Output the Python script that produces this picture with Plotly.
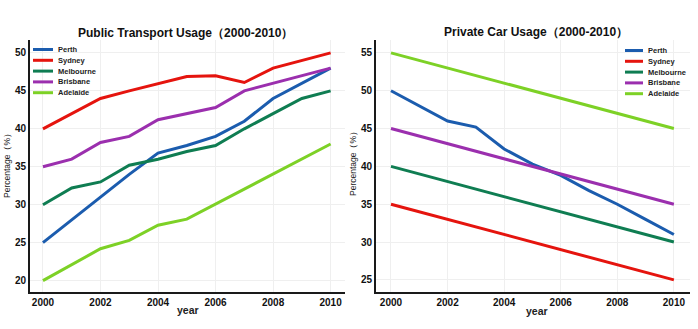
import plotly.graph_objects as go

years = list(range(2000, 2011))
cities = ["Perth", "Sydney", "Melbourne", "Brisbane", "Adelaide"]
colors = ["#1b5cae", "#e5140e", "#0f7d52", "#9b2fae", "#7dd126"]

pt_perth = [25, 28, 31, 34, 36.8, 37.8, 39, 41, 44, 46, 48]
pt_sydney = [40, 42, 44, 45, 46, 46.9, 47, 46.1, 48, 49, 50]
pt_melbourne = [30, 32.2, 33, 35.2, 36, 37, 37.8, 40, 42, 44, 45]
pt_brisbane = [35, 36, 38.2, 39, 41.2, 42, 42.8, 45, 46, 47, 48]
pt_adelaide = [20, 22.1, 24.2, 25.3, 27.3, 28.1, 30.1, 32, 34, 36, 38]

car_perth = [50, 48, 46, 45.2, 42.3, 40.3, 38.8, 36.8, 35, 33, 31]
car_sydney = [35, 34, 33, 32, 31, 30, 29, 28, 27, 26, 25]
car_melbourne = [40, 39, 38, 37, 36, 35, 34, 33, 32, 31, 30]
car_brisbane = [45, 44, 43, 42, 41, 40, 39, 38, 37, 36, 35]
car_adelaide = [55, 54, 53, 52, 51, 50, 49, 48, 47, 46, 45]

public = [pt_perth, pt_sydney, pt_melbourne, pt_brisbane, pt_adelaide]
private = [car_perth, car_sydney, car_melbourne, car_brisbane, car_adelaide]

W, H = 698, 329
fig = go.Figure()
for name, col, vals in zip(cities, colors, public):
    fig.add_trace(go.Scatter(x=years, y=vals, mode="lines", name=name,
                             line=dict(color=col, width=3), xaxis="x", yaxis="y"))
for name, col, vals in zip(cities, colors, private):
    fig.add_trace(go.Scatter(x=years, y=vals, mode="lines", name=name,
                             line=dict(color=col, width=3), xaxis="x2", yaxis="y2"))

font_family = "Liberation Sans, Arial, sans-serif"
tickfont = dict(family=font_family, size=10, color="#111")
axis_common = dict(showline=True, linecolor="#1a1a1a", linewidth=2, showgrid=True,
                   gridcolor="#efefef", gridwidth=1, zeroline=False, ticks="",
                   tickfont=tickfont, automargin=False,
                   tickprefix="<b>", ticksuffix="</b>")

y0, y1 = (H - 292) / H, (H - 40) / H
fig.update_layout(
    width=W, height=H, margin=dict(l=0, r=0, t=0, b=0),
    paper_bgcolor="white", plot_bgcolor="white",
    font=dict(family=font_family),
    showlegend=False,
    xaxis=dict(domain=[30 / W, 345 / W], range=[1999.55, 2010.5], dtick=2, anchor="y", **axis_common),
    yaxis=dict(domain=[y0, y1], range=[18.5, 51.7], dtick=5, anchor="x", **axis_common),
    xaxis2=dict(domain=[376 / W, 690 / W], range=[1999.47, 2010.57], dtick=2, anchor="y2", **axis_common),
    yaxis2=dict(domain=[y0, y1], range=[23.4, 56.7], dtick=5, anchor="x2", **axis_common),
)

anns = [
    dict(text="<b>Public Transport Usage（2000-2010）</b>", x=185 / W, y=1 - 33 / H, font=dict(size=12, color="#111")),
    dict(text="<b>Private Car Usage（2000-2010）</b>", x=536 / W, y=1 - 32 / H, font=dict(size=12, color="#111")),
    dict(text="<b>year</b>", x=188 / W, y=1 - 310 / H, font=dict(size=10.5, color="#222")),
    dict(text="<b>year</b>", x=537 / W, y=1 - 311 / H, font=dict(size=10.5, color="#222")),
    dict(text="Percentage（%）", x=7 / W, y=1 - 164 / H, textangle=-90, font=dict(size=8.5, color="#222")),
    dict(text="Percentage（%）", x=353 / W, y=1 - 162 / H, textangle=-90, font=dict(size=8.5, color="#222")),
]
shapes = []
# custom compact legends
legend_specs = [(33, 53, 56, 49.5), (625, 643, 646, 50.5)]
for lx0, lx1, tx, ytop in legend_specs:
    for i, (name, col) in enumerate(zip(cities, colors)):
        yy = 1 - (ytop + i * 10.8) / H
        shapes.append(dict(type="line", xref="paper", yref="paper", x0=lx0 / W, x1=lx1 / W,
                           y0=yy, y1=yy, line=dict(color=col, width=3)))
        anns.append(dict(text="<b>" + name + "</b>", x=tx / W, y=yy, xanchor="left",
                         font=dict(size=7.5, color="#222")))
for a in anns:
    a.update(xref="paper", yref="paper", showarrow=False, yanchor="middle")
    a.setdefault("xanchor", "center")
    a["font"]["family"] = font_family
fig.update_layout(annotations=anns, shapes=shapes)
fig.write_html("out.html")
